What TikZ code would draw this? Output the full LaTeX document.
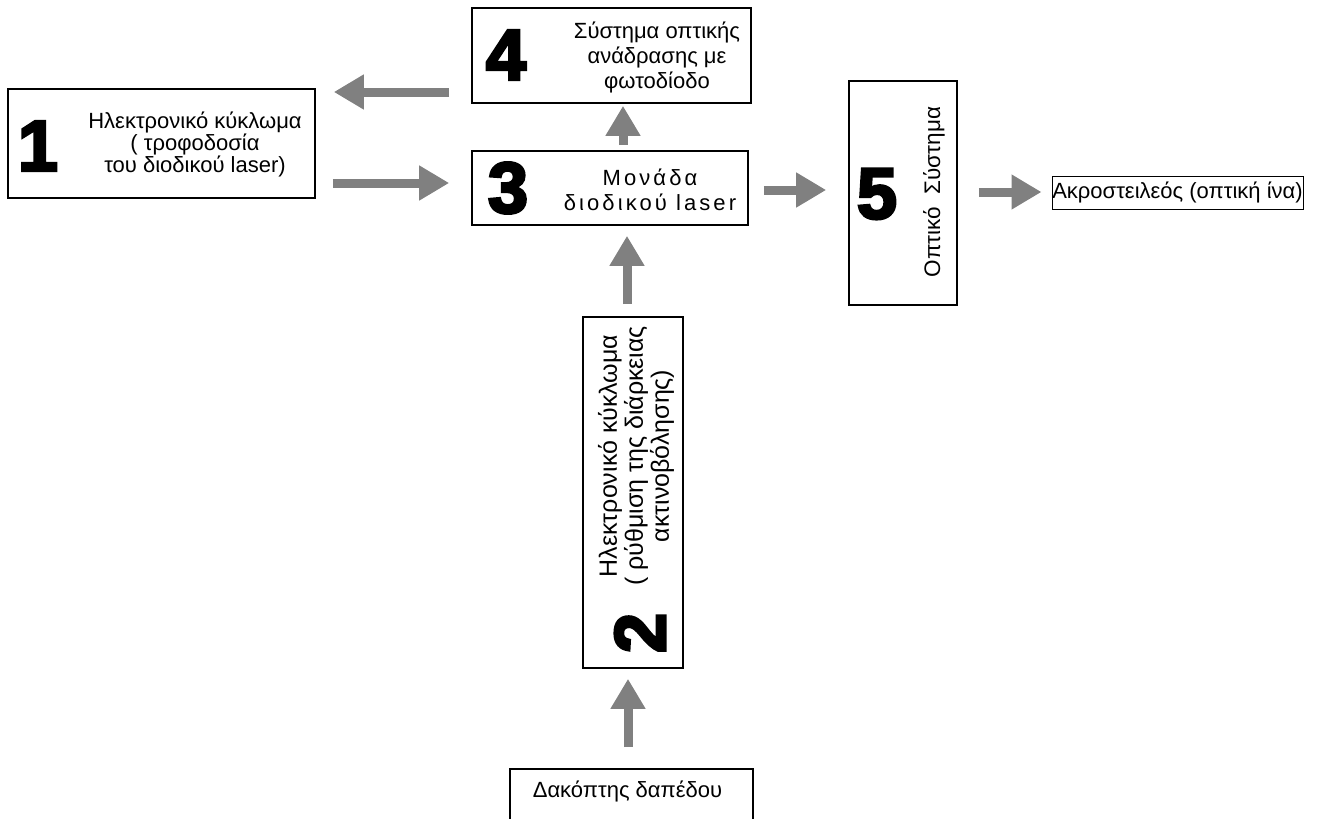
\documentclass[tikz,border=0pt]{standalone}
\usepackage{fontspec}
\setmainfont{Liberation Sans}
\newfontfamily\numfont[FakeBold=4]{Liberation Sans Bold}
\usetikzlibrary{arrows.meta}
\definecolor{flowgray}{RGB}{128,128,128}
\tikzset{
  block/.style={draw, line width=1.6pt, inner sep=0pt},
  num/.style={font=\numfont\fontsize{72}{72}\selectfont, inner sep=0pt},
  txt/.style={align=center, inner sep=0pt, font=\fontsize{22}{22}\selectfont},
  flow/.style={draw=flowgray, line width=9pt, -{Triangle[width=33pt,length=30pt]}}
}
\begin{document}
\begin{tikzpicture}[x=1pt,y=-1pt]
  \useasboundingbox (0,0) rectangle (1317,819);

  % boxes
  \node[block, minimum width=307pt, minimum height=109pt] (b1) at (161.5,143.5) {};
  \node[block, minimum width=279pt, minimum height=95pt] (b4) at (611.5,55.5) {};
  \node[block, minimum width=276pt, minimum height=74pt] (b3) at (610,188) {};
  \node[block, minimum width=108pt, minimum height=224pt] (b5) at (903,193) {};
  \node[block, minimum width=100pt, minimum height=351pt] (b2) at (633,492.5) {};
  \node[block, line width=1pt, minimum width=251pt, minimum height=33pt] (bt) at (1177.5,192.5) {};
  \node[block, minimum width=243pt, minimum height=71pt] (bd) at (631.5,804.5) {};

  % numbers
  \node[num] (n1) at (38,146) {1};
  \node[num] (n4) at (506,55) {4};
  \node[num] (n3) at (508,188) {3};
  \node[num] (n5) at (877,194) {5};
  \node[num, rotate=90] (n2) at (640,633) {2};

  % texts
  \node[txt] (l1) at (195,144) {Ηλεκτρονικό κύκλωμα\\( τροφοδοσία\\του διοδικού laser)};
  \node[txt, font=\fontsize{22}{25}\selectfont] (l4) at (657,57) {Σύστημα οπτικής\\ανάδρασης με\\φωτοδίοδο};
  \node[txt, font=\fontsize{22}{25}\selectfont\addfontfeatures{LetterSpace=14}] (l3) at (650,190) {Μονάδα\\διοδικού laser};
  \node[txt, rotate=90, font=\fontsize{22.5}{24}\selectfont] (l5) at (934,192) {Οπτικό~ Σύστημα};
  \node[txt, rotate=90, font=\fontsize{25}{26}\selectfont] (l2) at (636,456) {Ηλεκτρονικό κύκλωμα\\( ρύθμιση της διάρκειας\\ακτινοβόλησης)};
  \node[txt] (lt) at (1177.5,192) {Ακροστειλεός (οπτική ίνα)};
  \node[txt] (ld) at (627.5,791) {Δακόπτης δαπέδου};

  % arrows
  \draw[flow, shorten <=22pt, shorten >=18pt] (b4.west |- 0,92) -- (b1.east |- 0,92);
  \draw[flow, shorten <=17pt, shorten >=22pt] (b1.east |- 0,183) -- (b3.west |- 0,183);
  \draw[flow, shorten <=5pt, shorten >=2pt] (b3.north -| 623,0) -- (b4.south -| 623,0);
  \draw[flow, shorten <=15pt, shorten >=22pt] (b3.east |- 0,190) -- (b5.west |- 0,190);
  \draw[flow, shorten <=21pt, shorten >=10pt] (b5.east |- 0,192) -- (bt.west |- 0,192);
  \draw[flow, shorten <=12pt, shorten >=10pt] (b2.north -| 627,0) -- (b3.south -| 627,0);
  \draw[flow, shorten <=21pt, shorten >=10pt] (bd.north -| 628,0) -- (b2.south -| 628,0);
\end{tikzpicture}
\end{document}
